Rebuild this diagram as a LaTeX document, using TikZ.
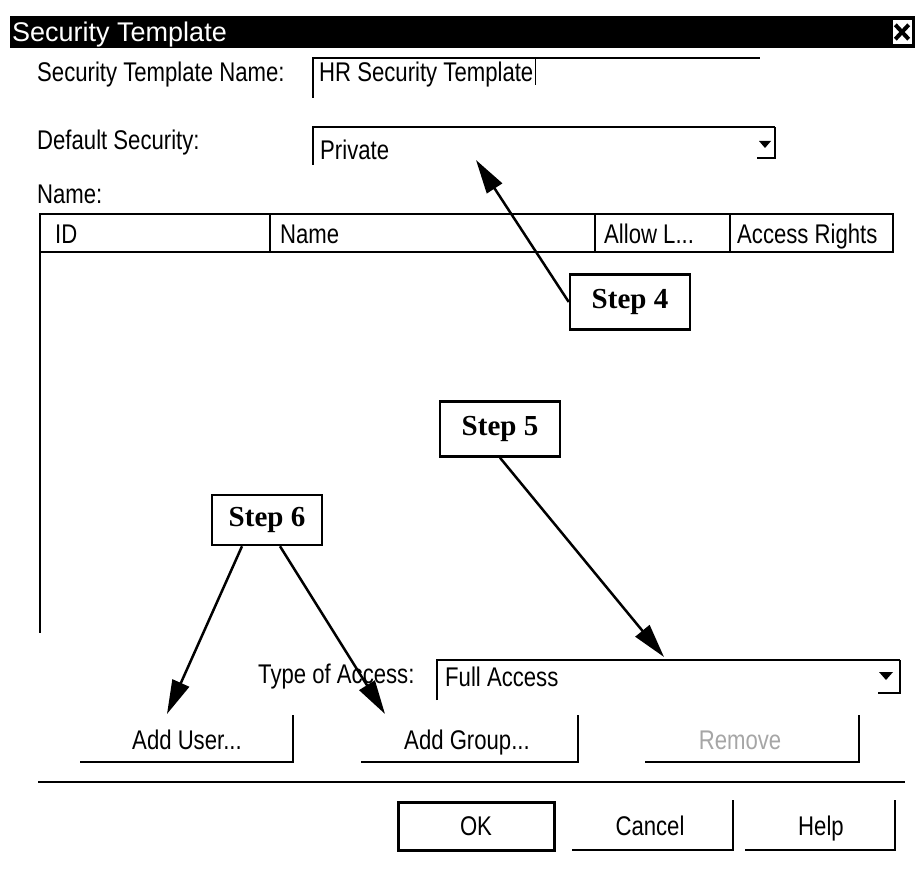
\documentclass[tikz,border=0pt]{standalone}
\usepackage{fontspec}
\setmainfont{Liberation Sans}[FakeStretch=0.82]
\newfontfamily\titlefont{Liberation Sans}
\newfontfamily\stepfont{Liberation Serif}
\usetikzlibrary{positioning, arrows.meta, calc}

\begin{document}
\begin{tikzpicture}[
    x=1pt, y=-1pt,
    >={Triangle[length=34pt, width=18pt]}, % long callout tips
    % Styles
    txt/.style={ % Plain dialog text
        anchor=west,
        inner sep=0pt,
        text height=22pt,
        text depth=3pt,
        font=\fontsize{27}{30}\selectfont
    },
    edge/.style={ % Window edges
        line width=2.5pt
    },
    stepbox/.style={ % Callout boxes
        draw,
        line width=2.5pt,
        minimum width=120pt,
        minimum height=55pt,
        font=\stepfont\bfseries\fontsize{29}{32}\selectfont
    },
    arrow/.style={
        ->,
        line width=2.5pt
    }
]
    \useasboundingbox (0,0) rectangle (915,869);

    % Title bar
    \fill (10,16) rectangle (915,48);
    \node[txt, white, font=\titlefont\fontsize{27}{30}\selectfont] (title) at (12,32) {Security Template};
    \node[fill=white, minimum width=19pt, minimum height=24pt, inner sep=0pt] (close) at (902,32) {};
    \draw[line width=4pt] ([shift={(3,-5)}]close.south west) -- ([shift={(-3,5)}]close.north east);
    \draw[line width=4pt] ([shift={(3,5)}]close.north west) -- ([shift={(-3,-5)}]close.south east);

    % Template name
    \node[txt] (nameLbl) at (37,72) {Security Template Name:};
    \draw[line width=1.5pt] (313,98) |- (760,58);
    \node[txt] (nameVal) at (319,72) {HR Security Template};
    \draw[line width=1.5pt] ([xshift=2]nameVal.north east) -- ([xshift=2]nameVal.south east);

    % Default security
    \node[txt] (secLbl) at (37,140) {Default Security:};
    \draw[edge] (313,165) |- (775,127);
    \node[txt] (secVal) at (320,150) {Private};
    \fill (759,141) -- (771,141) -- (765,148) -- cycle;
    \draw[edge] (757,158) -- (775,158) -- (775,127);

    % User list
    \node[txt] (listLbl) at (37,194) {Name:};
    \draw[edge] (40,214) rectangle (893,252);
    \foreach \col in {270, 595, 730}
        \draw[edge] (\col,214) -- (\col,252);
    \draw[edge] (40,252) -- (40,633);
    \node[txt] (colId) at (55,234) {ID};
    \node[txt] (colName) at (280,234) {Name};
    \node[txt] (colAllow) at (604,234) {Allow L...};
    \node[txt] (colRights) at (737,234) {Access Rights};

    % Type of access
    \node[txt] (typeLbl) at (258,674) {Type of Access:};
    \draw[edge] (437,700) |- (900,660);
    \node[txt] (typeVal) at (445,677) {Full Access};
    \fill (879,672) -- (893,672) -- (886,680) -- cycle;
    \draw[edge] (878,693) -- (900,693) -- (900,660);

    % Buttons (raised: shadow on right and bottom)
    \draw[edge] (80,762) -| (293,715);
    \node[txt, anchor=center] (addUser) at (187,740) {Add User...};
    \draw[edge] (361,762) -| (578,715);
    \node[txt, anchor=center] (addGroup) at (467,740) {Add Group...};
    \draw[edge] (645,762) -| (859,715);
    \node[txt, anchor=center, gray!70] (remove) at (740,740) {Remove};

    % Separator
    \draw[line width=1.5pt] (38,782) -- (905,782);

    \draw[line width=3pt] (398,802) rectangle (554,850);
    \node[txt, anchor=center] (ok) at (476,826) {OK};
    \draw[edge] (572,850) -| (733,800);
    \node[txt, anchor=center] (cancel) at (650,826) {Cancel};
    \draw[edge] (745,850) -| (895,800);
    \node[txt, anchor=center] (help) at (821,826) {Help};

    % Step callouts
    \node[stepbox] (step4) at (630,302) {Step 4};
    \node[stepbox] (step5) at (500,429) {Step 5};
    \node[stepbox, minimum width=110pt, minimum height=50pt] (step6) at (267,520) {Step 6};

    % Callout arrows
    \coordinate (privTip) at (476,160);
    \coordinate (typeTip) at (664,657);
    \coordinate (userTip) at (167,714);
    \coordinate (groupTip) at (385,714);
    \draw[arrow] (step4.west) -- (privTip);
    \draw[arrow] (step5.south) -- (typeTip);
    \draw[arrow] ([xshift=-25]step6.south) -- (userTip);
    \draw[arrow] ([xshift=13]step6.south) -- (groupTip);
\end{tikzpicture}
\end{document}
